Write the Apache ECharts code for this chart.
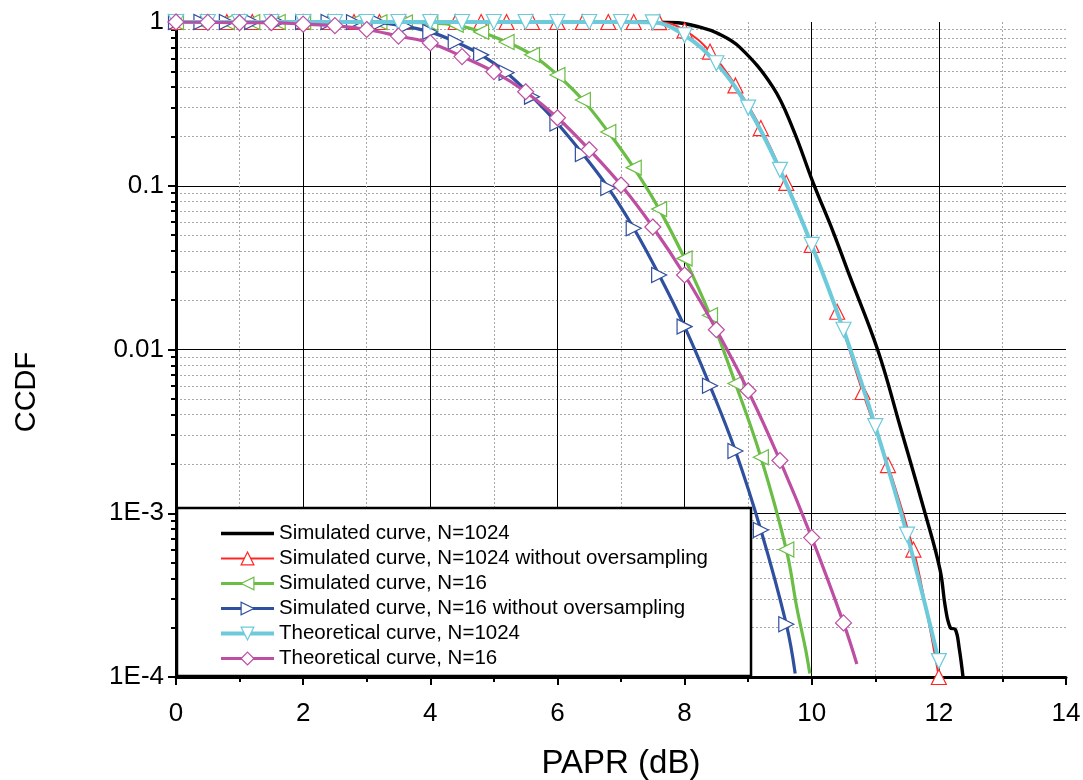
<!DOCTYPE html>
<html><head><meta charset="utf-8">
<script src="https://cdn.jsdelivr.net/npm/echarts@6/dist/echarts.min.js"></script>
<style>html,body{margin:0;padding:0;background:#fff}#c{width:1083px;height:780px}</style>
</head><body><div id="c"></div>
<script>
// ---- data (x = PAPR dB, y = CCDF) ----
const seriesNames = [
  'Simulated curve, N=1024',
  'Simulated curve, N=1024 without oversampling',
  'Simulated curve, N=16',
  'Simulated curve, N=16 without oversampling',
  'Theoretical curve, N=1024',
  'Theoretical curve, N=16'
];
const sim1024 = [[0,1],[7.0,1],[7.6,0.999],[7.9,0.99],[8.24,0.93],[8.51,0.857],[8.87,0.70],[9.39,0.40],[9.7,0.225],[10.02,0.105],[10.34,0.052],[10.57,0.030],[11.04,0.0099],[11.39,0.0034],[11.78,0.00101],[12.02,4.5e-4],[12.1,2.7e-4],[12.18,2.0e-4],[12.26,1.95e-4],[12.32,1.5e-4],[12.38,1e-4]];
const sim1024NoOs = [[0,1],[0.4,1],[0.8,1],[1.2,1],[1.6,1],[2.0,1],[2.4,1],[2.8,1],[3.2,1],[3.6,1],[4.0,1],[4.4,1],[4.8,1],[5.2,1],[5.6,1],[6.0,1],[6.4,1],[6.8,1],[7.2,1],[7.6,0.998],[8.0,0.89],[8.4,0.66],[8.8,0.41],[9.2,0.225],[9.6,0.104],[10.0,0.0435],[10.4,0.017],[10.8,0.0055],[11.2,0.00197],[11.6,6.0e-4],[11.8,2.6e-4],[12.0,1.0e-4]];
const sim16 = [[0,1],[0.4,1],[0.8,1],[1.2,1],[1.6,1],[2.0,1],[2.4,1],[2.8,1],[3.2,0.998],[3.6,0.995],[4.0,0.985],[4.4,0.96],[4.8,0.87],[5.2,0.755],[5.6,0.63],[6.0,0.475],[6.4,0.334],[6.8,0.213],[7.2,0.129],[7.6,0.072],[8.0,0.036],[8.4,0.0162],[8.8,0.0062],[9.2,0.0022],[9.6,6.0e-4],[9.77,2.6e-4],[9.9,1.5e-4],[9.97,1.05e-4]];
const sim16NoOs = [[0,1],[0.4,1],[0.8,1],[1.2,1],[1.6,1],[2.0,1],[2.4,1],[2.8,0.998],[3.2,0.99],[3.6,0.94],[4.0,0.87],[4.4,0.755],[4.8,0.63],[5.2,0.49],[5.6,0.35],[6.0,0.24],[6.4,0.156],[6.8,0.097],[7.2,0.055],[7.6,0.0285],[8.0,0.0138],[8.4,0.0060],[8.8,0.0024],[9.2,7.9e-4],[9.6,2.1e-4],[9.74,1.05e-4]];
const theo1024 = [[0,1],[0.5,1],[1.0,1],[1.5,1],[2.0,1],[2.5,1],[3.0,1],[3.5,1],[4.0,1],[4.5,1],[5.0,1],[5.5,1],[6.0,1],[6.5,1],[7.0,1],[7.5,0.995],[8.0,0.83],[8.5,0.56],[9.0,0.30],[9.5,0.125],[10.0,0.0435],[10.5,0.0132],[11.0,0.0034],[11.5,7.4e-4],[12.0,1.25e-4]];
const theo16 = [[0,1],[0.5,0.995],[1.0,0.99],[1.5,0.99],[2.0,0.97],[2.5,0.95],[3.0,0.90],[3.5,0.82],[4.0,0.745],[4.5,0.615],[5.0,0.497],[5.5,0.375],[6.0,0.26],[6.5,0.166],[7.0,0.101],[7.5,0.056],[8.0,0.0285],[8.5,0.0132],[9.0,0.0056],[9.5,0.0021],[10.0,7.1e-4],[10.5,2.14e-4],[10.71,1.2e-4]];
const yTickValues = [1e-4, 1e-3, 1e-2, 1e-1, 1];
const yTickLabels = ['1E-4', '1E-3', '0.01', '0.1', '1'];
const xTickLabels = ['0','2','4','6','8','10','12','14'];

// ---- styling ----
const FONT = 'Liberation Sans';
const styles = [
  {data: sim1024, color: '#000000', width: 3.4, symbol: 'none', rotate: 0, size: 0, step: 0},
  {data: sim1024NoOs, color: '#ff2626', width: 2, symbol: 'triangle', rotate: 0, size: 15, step: 0.4},
  {data: sim16, color: '#6abd45', width: 3.2, symbol: 'triangle', rotate: 90, size: 15, step: 0.4},
  {data: sim16NoOs, color: '#2f4f9f', width: 3.2, symbol: 'triangle', rotate: -90, size: 15, step: 0.4},
  {data: theo1024, color: '#6ccadb', width: 4, symbol: 'triangle', rotate: 180, size: 15, step: 0.5},
  {data: theo16, color: '#bd4ea2', width: 3.2, symbol: 'diamond', rotate: 0, size: 16, step: 0.5}
];
function isMarker(x, step) {
  if (!step) return false;
  const r = x / step;
  return Math.abs(r - Math.round(r)) < 1e-6;
}
const series = styles.map((s, i) => ({
  name: seriesNames[i],
  type: 'line',
  smooth: 0.4,
  symbol: s.symbol,
  symbolRotate: s.rotate,
  symbolSize: s.size,
  showAllSymbol: true,
  z: 2 + i,
  lineStyle: {color: s.color, width: s.width},
  itemStyle: {color: '#ffffff', borderColor: s.color, borderWidth: 1.2},
  emphasis: {disabled: true},
  data: s.data.map(p => isMarker(p[0], s.step) ? {value: p} : {value: p, symbol: 'none'})
}));

const chart = echarts.init(document.getElementById('c'), null, {renderer: 'canvas'});
chart.setOption({
  animation: false,
  backgroundColor: '#ffffff',
  grid: {left: 176, right: 17, top: 22, bottom: 103, containLabel: false, outerBoundsMode: 'none'},
  legend: {
    orient: 'vertical',
    left: 177, top: 508,
    padding: [15, 43, 7, 42],
    backgroundColor: '#ffffff',
    borderColor: '#000000',
    borderWidth: 2.5,
    borderRadius: 0,
    itemWidth: 53, itemHeight: 16, itemGap: 4,
    selectedMode: false,
    textStyle: {fontFamily: FONT, fontSize: 20.5, color: '#000'},
    data: styles.map((s, i) => ({
      name: seriesNames[i],
      itemStyle: s.symbol === 'none'
        ? {color: 'rgba(0,0,0,0)', borderColor: 'rgba(0,0,0,0)', borderWidth: 0}
        : {color: '#ffffff', borderColor: s.color, borderWidth: 1.2},
      lineStyle: {color: s.color, width: s.width}
    }))
  },
  xAxis: {
    type: 'value', min: 0, max: 14, interval: 2,
    name: 'PAPR (dB)', nameLocation: 'middle', nameGap: 70,
    nameTextStyle: {fontFamily: FONT, fontSize: 33, color: '#000'},
    axisLine: {show: true, onZero: false, lineStyle: {color: '#000', width: 3}},
    axisTick: {show: true, inside: false, length: 8, lineStyle: {color: '#000', width: 2}},
    minorTick: {show: true, splitNumber: 2, length: 5, lineStyle: {color: '#000', width: 2}},
    axisLabel: {margin: 24, fontFamily: FONT, fontSize: 26, color: '#000',
      formatter: v => xTickLabels[Math.round(v / 2)]},
    splitLine: {show: true, showMaxLine: false, lineStyle: {color: '#000', width: 1}},
    minorSplitLine: {show: true, lineStyle: {color: '#a8a8a8', width: 1, type: [2, 2]}}
  },
  yAxis: {
    type: 'log', logBase: 10, min: 1e-4, max: 1,
    axisLine: {show: true, onZero: false, lineStyle: {color: '#000', width: 3}},
    axisTick: {show: true, inside: false, length: 8, lineStyle: {color: '#000', width: 2}},
    minorTick: {show: true, splitNumber: 9, length: 5, lineStyle: {color: '#000', width: 2}},
    axisLabel: {margin: 12, fontFamily: FONT, fontSize: 26, color: '#000',
      formatter: v => {
        for (let i = 0; i < yTickValues.length; i++) {
          if (Math.abs(Math.log10(v) - Math.log10(yTickValues[i])) < 1e-6) return yTickLabels[i];
        }
        return '';
      }},
    splitLine: {show: true, showMaxLine: false, showMinLine: false, lineStyle: {color: '#000', width: 1}},
    minorSplitLine: {show: true, lineStyle: {color: '#a8a8a8', width: 1, type: [2, 2]}}
  },
  graphic: [{
    type: 'text', x: 27, y: 392, rotation: Math.PI / 2,
    style: {text: 'CCDF', font: '29px "Liberation Sans"', fill: '#000', textAlign: 'center', textVerticalAlign: 'middle'}
  }],
  series: series
});
</script></body></html>
